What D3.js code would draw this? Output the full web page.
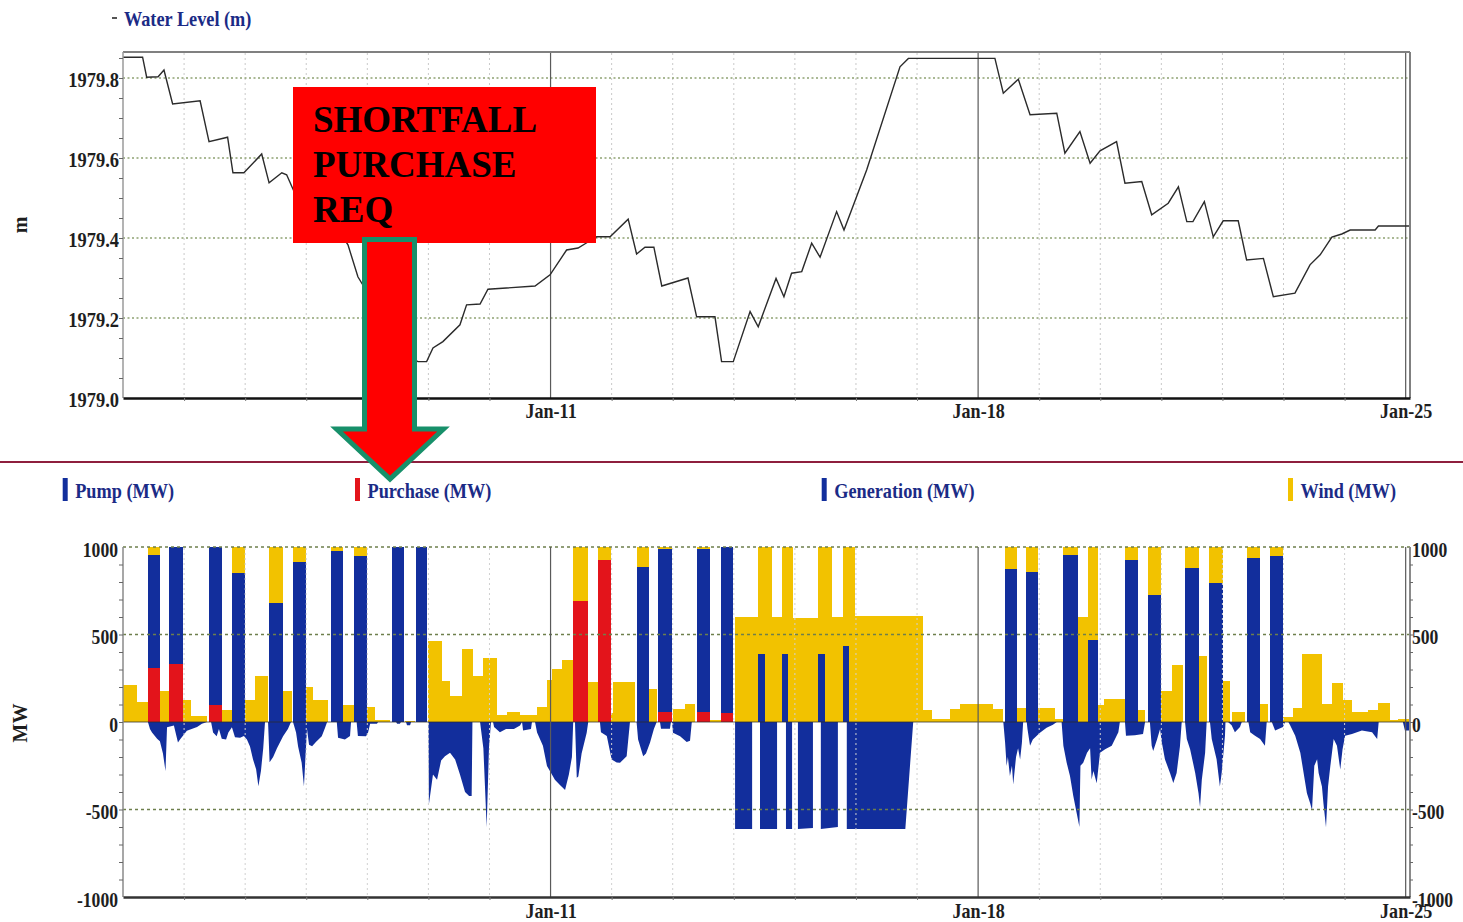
<!DOCTYPE html>
<html><head><meta charset="utf-8">
<script src="https://cdn.jsdelivr.net/npm/d3@7"></script>
<style>
html,body{margin:0;padding:0;background:#fff;}
svg{display:block;}
</style></head><body>
<svg id="chart" width="1463" height="922"></svg>
<script>
// ---------------- DATA ----------------
// time is in hours from Jan-4 00:00
const weekTickHours = [168, 336, 504];
const weekTickLabels = ["Jan-11", "Jan-18", "Jan-25"];
const levelTicks = [1979.0, 1979.2, 1979.4, 1979.6, 1979.8];
const mwTicks = [-1000, -500, 0, 500, 1000];
const topLegend = "Water Level (m)";
const seriesNames = ["Pump (MW)", "Purchase (MW)", "Generation (MW)", "Wind (MW)"];
const annotationLines = ["SHORTFALL", "PURCHASE", "REQ"];

// reservoir water level [hour, m]
const levelPoints = [
 [0,1979.852],[7.7,1979.852],[9.3,1979.802],[13.8,1979.803],[16.1,1979.820],[19.5,1979.735],[30.3,1979.743],
 [33.8,1979.641],[41.1,1979.652],[43.2,1979.563],[47.5,1979.563],[54.5,1979.610],[57.4,1979.538],[62.4,1979.563],
 [64.3,1979.558],[69.5,1979.483],[76.6,1979.465],[83.3,1979.433],[88.4,1979.383],[92.3,1979.303],[97.8,1979.245],
 [104.9,1979.170],[110.8,1979.108],[115.9,1979.091],[119.3,1979.091],[121.8,1979.125],[125.7,1979.141],[132.4,1979.183],
 [135.0,1979.233],[140.3,1979.235],[143.4,1979.272],[161.9,1979.280],[167.8,1979.308],[174.3,1979.370],[178.8,1979.375],
 [182.7,1979.390],[186.1,1979.403],[191.4,1979.403],[198.5,1979.447],[201.8,1979.360],[205.1,1979.377],[208.6,1979.377],
 [211.7,1979.280],[222.0,1979.300],[225.4,1979.203],[232.6,1979.203],[235.2,1979.091],[239.8,1979.091],[246.4,1979.216],
 [249.6,1979.178],[256.6,1979.299],[259.7,1979.253],[262.7,1979.312],[266.7,1979.316],[270.6,1979.387],[273.9,1979.352],
 [280.4,1979.466],[283.3,1979.420],[292.2,1979.570],[305.3,1979.828],[308.6,1979.849],[342.6,1979.849],[345.9,1979.762],
 [351.8,1979.797],[356.4,1979.708],[366.9,1979.712],[370.1,1979.612],[376.0,1979.666],[380.0,1979.587],[383.9,1979.618],
 [390.4,1979.641],[393.7,1979.537],[400.3,1979.541],[404.2,1979.458],[410.7,1979.487],[414.7,1979.528],[418.0,1979.441],
 [420.4,1979.441],[424.9,1979.491],[428.4,1979.403],[432.3,1979.443],[438.2,1979.443],[441.5,1979.345],[448.1,1979.349],
 [452.0,1979.253],[460.5,1979.262],[466.4,1979.333],[470.4,1979.358],[475.0,1979.402],[478.9,1979.410],[482.2,1979.420],
 [492.0,1979.420],[493.3,1979.430],[505.7,1979.430]
];

// stacked positive slots: [startHour, endHour, purchase MW, pump MW, wind MW]
const stackSlots = [
 [0.0,5.4,0,0,212],[5.4,9.7,0,0,114],[9.7,14.5,310,645,45],[14.5,18.1,0,0,175],[18.1,23.5,332,668,0],
 [23.5,26.6,0,0,124],[26.6,33.1,0,0,34],[33.9,38.8,100,900,0],[38.8,42.7,0,0,67],[42.7,47.9,0,849,151],
 [47.9,51.9,0,0,123],[51.9,57.1,0,0,262],[57.5,63.0,0,680,320],[63.0,66.3,0,0,175],[66.7,71.9,0,917,83],
 [71.9,74.8,0,0,200],[74.8,80.7,0,0,124],[81.6,86.6,0,977,23],[86.6,90.9,0,0,99],[90.9,96.0,0,949,51],
 [96.0,99.0,0,0,85],[99.0,104.9,0,0,10],[105.6,110.5,0,1000,0],[110.8,114.7,0,0,8],[115.0,119.6,0,1000,0],
 [120.0,125.2,0,0,465],[125.2,128.5,0,0,237],[128.5,133.1,0,0,150],[133.1,137.6,0,0,415],[137.6,141.6,0,0,263],
 [141.6,146.8,0,0,368],[146.8,150.8,0,0,42],[150.8,156.0,0,0,57],[156.0,162.6,0,0,38],[162.6,166.5,0,0,86],
 [166.5,168.4,0,0,238],[168.4,172.4,0,0,304],[172.4,176.9,0,0,352],[176.9,182.8,694,0,306],[182.8,186.8,0,0,228],
 [186.8,191.6,928,0,72],[191.6,192.7,0,0,50],[192.7,201.2,0,0,228],[201.8,206.8,0,884,116],[206.8,209.7,0,0,190],
 [210.3,215.6,57,931,12],[216.2,220.8,0,0,76],[220.8,224.8,0,0,105],[225.4,230.6,57,931,12],[230.6,235.0,0,0,10],
 [235.0,239.8,53,947,0],[240.5,249.5,0,0,600],[249.5,252.3,0,390,610],[252.3,255.0,0,0,1000],[255.0,258.8,0,0,600],
 [258.8,261.3,0,390,610],[261.3,263.4,0,0,1000],[263.4,273.2,0,0,595],[273.2,275.8,0,390,610],[275.8,278.5,0,0,1000],
 [278.5,283.0,0,0,600],[283.0,285.4,0,433,567],[285.4,287.6,0,0,1000],[287.6,314.5,0,0,604],[314.5,317.8,0,0,67],
 [317.8,324.9,0,0,19],[324.9,328.9,0,0,76],[328.9,341.8,0,0,105],[341.8,345.8,0,0,76],[346.6,351.2,0,874,126],
 [351.2,354.8,0,0,80],[354.8,359.6,0,860,140],[359.6,366.2,0,0,80],[366.2,369.5,0,0,15],[369.5,375.4,0,955,45],
 [375.4,379.2,0,0,600],[379.2,383.2,0,466,534],[383.2,385.5,0,0,95],[385.5,393.7,0,0,133],[393.7,398.9,0,925,75],
 [398.9,401.6,0,0,67],[402.6,407.9,0,727,273],[407.9,412.1,0,0,180],[412.1,416.6,0,0,325],[417.3,422.8,0,880,120],
 [422.8,425.8,0,0,378],[426.7,432.4,0,797,203],[432.4,435.0,0,0,236],[435.6,440.9,0,0,60],[441.5,446.7,0,935,65],
 [446.7,449.9,0,0,105],[450.7,455.9,0,948,52],[455.9,459.7,0,0,28],[459.7,463.1,0,0,80],[463.1,471.0,0,0,390],
 [471.0,474.9,0,0,105],[474.9,479.5,0,0,225],[479.5,482.8,0,0,124],[482.8,489.3,0,0,57],[489.3,493.3,0,0,67],
 [493.3,497.9,0,0,110],[497.9,501.1,0,0,10],[501.1,505.7,0,0,19]
];

// generation (negative MW) [hour, MW]
const generationPoints = [
 [9.8,0],[10.6,-40],[11.4,-60],[13.4,-95],[14.5,-110],[15.7,-180],[16.7,-280],[17.3,-30],[20.0,-20],[21.6,-117],[22.4,-100],[25.1,-50],[29.1,-29],[31.0,-10],[33.0,0],
 [34.6,0],[35.4,-60],[36.8,-81],[37.7,-40],[38.8,-95],[40.5,-100],[41.4,-60],[42.8,-30],[44.0,-87],[46.0,-90],[47.5,-80],[48.7,-100],[49.9,-140],[51.1,-214],[52.3,-270],[53.2,-367],[54.2,-280],[55.1,-150],[55.8,0],
 [57.0,0],[57.6,-230],[59.0,-200],[60.5,-150],[62.9,-81],[64.8,-40],[66.0,0],[66.8,0],[68.0,-60],[68.8,-140],[70.2,-233],[71.1,-367],[71.7,-200],[72.3,-40],[73.1,-130],[74.3,-139],[75.8,-114],[78.1,-81],[79.4,-33],[80.2,0],
 [84.0,0],[84.5,-90],[87.2,-100],[89.2,-80],[89.6,0],[91.8,0],[92.3,-80],[95.5,-81],[96.3,-60],[97.1,-10],[99.8,-10],[100.2,0],[107.3,0],[107.7,-10],[108.8,-10],[109.2,0],[111.2,0],[111.6,-19],[112.8,-19],[113.2,0],
 [120.0,0],[120.2,-470],[121.8,-300],[123.4,-330],[125.0,-220],[126.5,-195],[128.5,-176],[130.5,-214],[132.4,-300],[134.4,-400],[136.0,-423],[137.0,-423],[137.3,0],
 [140.3,0],[141.6,-150],[142.9,-600],[143.8,-150],[144.6,0],
 [145.4,0],[145.8,-29],[148.1,-58],[150.5,-40],[153.6,-40],[156.0,-20],[156.8,0],[157.2,-48],[160.3,-40],[160.7,0],
 [161.9,0],[162.7,-60],[165.0,-136],[166.6,-252],[168.2,-291],[169.7,-330],[171.7,-360],[173.7,-388],[175.2,-300],[176.4,-200],[176.9,0],
 [177.6,0],[178.3,-319],[178.9,-311],[180.2,-180],[182.2,-62],[182.8,0],
 [187.4,0],[187.8,-58],[190.1,-80],[192.0,-214],[194.0,-232],[195.3,-233],[197.9,-195],[199.2,0],
 [201.8,0],[202.4,-100],[204.4,-195],[205.5,-180],[207.1,-117],[208.6,-40],[209.7,0],
 [211.0,0],[211.4,-39],[214.9,-39],[215.3,0],[215.7,0],[216.1,-62],[218.9,-81],[221.5,-114],[222.8,-107],[223.5,0],
 [240.5,0],[240.5,-612],[247.2,-612],[247.2,0],[250.3,0],[250.3,-612],[257.0,-612],[257.0,0],[260.5,0],[260.5,-612],[262.9,-612],[262.9,0],
 [265.2,0],[265.2,-612],[271.1,-605],[271.1,0],[274.2,0],[274.2,-612],[280.9,-600],[280.9,0],[284.4,0],[284.4,-612],[307.4,-612],[310.5,0],
 [345.9,0],[346.6,-117],[347.2,-251],[347.7,-200],[348.5,-309],[349.3,-250],[349.8,-357],[350.9,-200],[351.7,-150],[352.5,-214],[353.2,-120],[353.7,0],
 [355.1,0],[355.4,-40],[356.4,-136],[357.5,-100],[360.3,-62],[362.9,-33],[365.4,-15],[366.9,0],
 [368.8,0],[369.5,-136],[370.8,-233],[372.1,-309],[373.4,-423],[374.7,-518],[375.8,-600],[376.2,-250],[377.3,-233],[378.8,-176],[380.0,-150],[380.6,-328],[381.3,-280],[382.6,-350],[383.9,-175],[385.9,-155],[388.5,-136],[391.1,-58],[391.7,0],
 [393.7,0],[394.1,-78],[397.6,-75],[400.8,-68],[401.6,0],
 [403.5,0],[404.2,-136],[404.8,-165],[406.3,-100],[407.5,-40],[408.1,-110],[409.4,-213],[411.4,-291],[412.7,-349],[414.0,-291],[415.3,-140],[416.0,0],
 [417.3,0],[418.0,-97],[419.3,-155],[421.3,-291],[422.6,-407],[423.2,-485],[423.9,-330],[425.2,-175],[425.8,0],
 [427.1,0],[427.8,-97],[429.7,-213],[431.0,-369],[431.7,-291],[433.0,-78],[433.2,0],
 [434.2,0],[435.6,-19],[436.9,-58],[438.9,-29],[439.6,0],
 [442.2,0],[442.9,-58],[444.8,-78],[446.8,-97],[448.7,-136],[449.4,0],
 [451.4,0],[452.7,-48],[455.8,-29],[456.6,0],
 [457.9,0],[458.6,-19],[460.6,-78],[462.6,-175],[463.9,-291],[465.2,-407],[466.5,-466],[467.2,-504],[468.1,-250],[469.2,-213],[469.8,-291],[471.1,-369],[471.7,-466],[472.7,-601],[473.5,-369],[474.4,-252],[475.7,-97],[477.0,-136],[478.3,-272],[479.2,-155],[480.2,-78],[482.9,-68],[486.8,-48],[490.8,-58],[492.8,-97],[493.4,0],
 [502.9,0],[503.7,-48],[505.3,-48],[505.7,0]
];

// ---------------- DRAWING ----------------
const FONT = '"Liberation Serif","Times New Roman",serif';
const BLUE = '#122e9c', RED = '#e3141b', YELLOW = '#f2c200', NAVY = '#1b2b86', INK = '#1e1e1e';
const svg = d3.select('#chart').attr('font-family', FONT);

function condense(sel, k) {
  sel.each(function () {
    const w = this.getComputedTextLength();
    this.setAttribute('textLength', (w * k).toFixed(1));
    this.setAttribute('lengthAdjust', 'spacingAndGlyphs');
  });
}
const mwFmt = d => String(d);   // plain hyphen minus as in the original

const x = d3.scaleLinear().domain([0, 505.7]).range([123, 1410]);
const yTop = d3.scaleLinear().domain([1979.0, 1979.865]).range([398, 52]);
const yBot = d3.scaleLinear().domain([-1000, 1000]).range([897, 547]);
const dayHours = d3.range(24, 504, 24).filter(h => h % 168 !== 0);

// ===== TOP PANEL =====
const topG = svg.append('g');
topG.selectAll('line.vday').data(dayHours).enter().append('line')
  .attr('x1', d => x(d)).attr('x2', d => x(d)).attr('y1', 53).attr('y2', 397)
  .attr('stroke', '#c9c9c9').attr('stroke-width', 1).attr('stroke-dasharray', '2,3');
topG.selectAll('line.hgrid').data(levelTicks.filter(v => v > 1979.0)).enter().append('line')
  .attr('x1', 123).attr('x2', 1410).attr('y1', d => yTop(d)).attr('y2', d => yTop(d))
  .attr('stroke', '#8fa373').attr('stroke-width', 1.3).attr('stroke-dasharray', '2,2.5');
topG.selectAll('line.week').data(weekTickHours).enter().append('line')
  .attr('x1', d => x(d)).attr('x2', d => x(d)).attr('y1', 52).attr('y2', 398)
  .attr('stroke', '#5a5a5a').attr('stroke-width', 1.2);
topG.append('path').datum(levelPoints)
  .attr('d', d3.line().x(d => x(d[0])).y(d => yTop(d[1])))
  .attr('fill', 'none').attr('stroke', '#2b2b2b').attr('stroke-width', 1.4);
topG.append('line').attr('x1', 123).attr('x2', 1410).attr('y1', 52).attr('y2', 52).attr('stroke', '#808080').attr('stroke-width', 2.2);
topG.append('line').attr('x1', 1410).attr('x2', 1410).attr('y1', 52).attr('y2', 398).attr('stroke', '#808080').attr('stroke-width', 2);
topG.append('line').attr('x1', 123).attr('x2', 123).attr('y1', 52).attr('y2', 398).attr('stroke', '#9a9a9a').attr('stroke-width', 1.5);
const axT = topG.append('g').attr('transform', 'translate(123,0)')
  .call(d3.axisLeft(yTop).tickValues(levelTicks).tickFormat(d3.format('.1f')).tickSize(0).tickPadding(4));
axT.select('.domain').remove();
axT.attr('font-family', FONT).attr('font-size', 22).attr('font-weight', 'bold');
axT.selectAll('text').attr('fill', INK).attr('dy', '0.4em');
condense(axT.selectAll('text'), 0.84);
const axTm = topG.append('g').attr('transform', 'translate(123,0)')
  .call(d3.axisLeft(yTop).tickValues(d3.range(1979.05, 1979.86, 0.05)).tickFormat('').tickSize(4));
axTm.select('.domain').remove();
axTm.selectAll('line').attr('stroke', '#666');
const axTx = topG.append('g').attr('transform', 'translate(0,398)')
  .call(d3.axisBottom(x).tickValues(weekTickHours).tickFormat((d, i) => weekTickLabels[i]).tickSize(0).tickPadding(5));
axTx.select('.domain').attr('stroke', '#111').attr('stroke-width', 2.5);
axTx.attr('font-family', FONT).attr('font-size', 21).attr('font-weight', 'bold');
axTx.selectAll('text').attr('fill', INK);
condense(axTx.selectAll('text'), 0.86);
const axTxm = topG.append('g').attr('transform', 'translate(0,398)')
  .call(d3.axisBottom(x).tickValues(dayHours).tickFormat('').tickSize(3));
axTxm.select('.domain').remove();
axTxm.selectAll('line').attr('stroke', '#777');
svg.append('text').attr('transform', 'translate(27,225) rotate(-90)').attr('text-anchor', 'middle')
  .attr('font-size', 20).attr('font-weight', 'bold').attr('fill', INK).text('m');
svg.append('line').attr('x1', 112).attr('x2', 117).attr('y1', 18).attr('y2', 18).attr('stroke', '#555').attr('stroke-width', 2);
const tl = svg.append('text').attr('x', 124).attr('y', 26).attr('font-size', 22).attr('font-weight', 'bold')
  .attr('fill', NAVY).text(topLegend);
condense(tl, 0.83);

svg.append('line').attr('x1', 0).attr('x2', 1463).attr('y1', 462).attr('y2', 462)
  .attr('stroke', '#8e1f3e').attr('stroke-width', 2);

// ===== BOTTOM PANEL =====
const botG = svg.append('g');
const rows = stackSlots.map(s => ({ start: s[0], end: s[1], purchase: s[2], pump: s[3], wind: s[4] }));
const stacked = d3.stack().keys(['purchase', 'pump', 'wind'])(rows);
const colorOf = { purchase: RED, pump: BLUE, wind: YELLOW };
stacked.forEach(layer => {
  botG.append('g').attr('fill', colorOf[layer.key]).attr('shape-rendering', 'crispEdges')
    .selectAll('rect').data(layer.filter(d => d[1] > d[0])).enter().append('rect')
    .attr('x', d => x(d.data.start)).attr('width', d => x(d.data.end) - x(d.data.start))
    .attr('y', d => yBot(d[1])).attr('height', d => yBot(d[0]) - yBot(d[1]));
});
botG.append('path').datum(generationPoints)
  .attr('d', d3.area().x(d => x(d[0])).y0(yBot(0)).y1(d => yBot(d[1])))
  .attr('fill', BLUE);
botG.append('line').attr('x1', 123).attr('x2', 1410).attr('y1', yBot(0)).attr('y2', yBot(0))
  .attr('stroke', '#2a2a2a').attr('stroke-width', 1.2).attr('opacity', 0.75);
botG.selectAll('line.vday').data(dayHours).enter().append('line')
  .attr('x1', d => x(d)).attr('x2', d => x(d)).attr('y1', 548).attr('y2', 896)
  .attr('stroke', '#d0d0d0').attr('stroke-width', 1).attr('stroke-dasharray', '2,3');
botG.selectAll('line.hgrid').data([1000, 500, -500]).enter().append('line')
  .attr('x1', 123).attr('x2', 1410).attr('y1', d => yBot(d)).attr('y2', d => yBot(d))
  .attr('stroke', '#6e7f4c').attr('stroke-width', 1.3).attr('stroke-dasharray', '3,3');
botG.selectAll('line.week').data(weekTickHours).enter().append('line')
  .attr('x1', d => x(d)).attr('x2', d => x(d)).attr('y1', 547).attr('y2', 897)
  .attr('stroke', '#5a5a5a').attr('stroke-width', 1.2);
botG.append('line').attr('x1', 123).attr('x2', 123).attr('y1', 547).attr('y2', 897).attr('stroke', '#8a8a8a').attr('stroke-width', 1.5);
botG.append('line').attr('x1', 1410).attr('x2', 1410).attr('y1', 547).attr('y2', 897).attr('stroke', '#8a8a8a').attr('stroke-width', 2);
const axB = botG.append('g').attr('transform', 'translate(123,0)')
  .call(d3.axisLeft(yBot).tickValues(mwTicks).tickFormat(mwFmt).tickSize(0).tickPadding(5));
axB.select('.domain').remove();
axB.attr('font-family', FONT).attr('font-size', 22).attr('font-weight', 'bold');
axB.selectAll('text').attr('fill', INK).attr('dy', '0.42em');
condense(axB.selectAll('text'), 0.8);
const axBm = botG.append('g').attr('transform', 'translate(123,0)')
  .call(d3.axisLeft(yBot).tickValues(d3.range(-900, 1000, 100)).tickFormat('').tickSize(4));
axBm.select('.domain').remove();
axBm.selectAll('line').attr('stroke', '#666');
const axR = botG.append('g').attr('transform', 'translate(1410,0)')
  .call(d3.axisRight(yBot).tickValues(mwTicks).tickFormat(mwFmt).tickSize(0).tickPadding(2));
axR.select('.domain').remove();
axR.attr('font-family', FONT).attr('font-size', 22).attr('font-weight', 'bold');
axR.selectAll('text').attr('fill', INK).attr('dy', '0.42em');
condense(axR.selectAll('text'), 0.8);
const axRm = botG.append('g').attr('transform', 'translate(1410,0)')
  .call(d3.axisRight(yBot).tickValues(d3.range(-900, 1000, 100)).tickFormat('').tickSize(3));
axRm.select('.domain').remove();
axRm.selectAll('line').attr('stroke', '#666');
const axBx = botG.append('g').attr('transform', 'translate(0,897)')
  .call(d3.axisBottom(x).tickValues(weekTickHours).tickFormat((d, i) => weekTickLabels[i]).tickSize(0).tickPadding(6));
axBx.select('.domain').attr('stroke', '#333').attr('stroke-width', 2.5);
axBx.attr('font-family', FONT).attr('font-size', 21).attr('font-weight', 'bold');
axBx.selectAll('text').attr('fill', INK);
condense(axBx.selectAll('text'), 0.86);
const axBxm = botG.append('g').attr('transform', 'translate(0,897)')
  .call(d3.axisBottom(x).tickValues(dayHours).tickFormat('').tickSize(3));
axBxm.select('.domain').remove();
axBxm.selectAll('line').attr('stroke', '#777');
svg.append('text').attr('transform', 'translate(26.5,723) rotate(-90)').attr('text-anchor', 'middle')
  .attr('font-size', 20).attr('font-weight', 'bold').attr('fill', INK).text('MW');

const legendX = [62.7, 355, 821.7, 1288];
const legendColors = [BLUE, RED, BLUE, YELLOW];
seriesNames.forEach((name, i) => {
  svg.append('rect').attr('x', legendX[i]).attr('y', 478).attr('width', 5).attr('height', 23).attr('fill', legendColors[i]);
  const t = svg.append('text').attr('x', legendX[i] + 12.5).attr('y', 498).attr('font-size', 22)
    .attr('font-weight', 'bold').attr('fill', NAVY).text(name);
  condense(t, 0.83);
});

// ===== ANNOTATION =====
svg.append('rect').attr('x', 293).attr('y', 87).attr('width', 303).attr('height', 156).attr('fill', '#ff0000');
annotationLines.forEach((s, i) => {
  svg.append('text').attr('x', 313).attr('y', 132 + i * 45).attr('font-size', 37).attr('font-weight', 'bold')
    .attr('fill', '#000').text(s);
});
svg.append('path')
  .attr('d', 'M364.5,239.5 L414.5,239.5 L414.5,429 L443.5,429 L390,479 L336.5,429 L364.5,429 Z')
  .attr('fill', '#ff0000').attr('stroke', '#17906a').attr('stroke-width', 5).attr('stroke-linejoin', 'miter');
</script>
</body></html>
